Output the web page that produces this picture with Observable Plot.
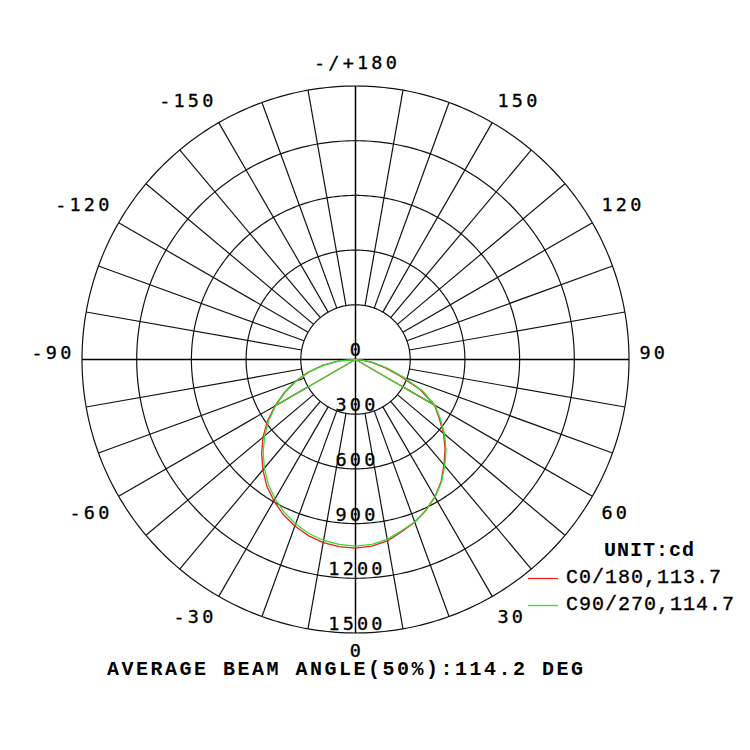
<!DOCTYPE html>
<html>
<head>
<meta charset="utf-8">
<script src="https://cdn.jsdelivr.net/npm/d3@7"></script>
<script src="https://cdn.jsdelivr.net/npm/@observablehq/plot@0.6"></script>
<style>
  html, body { margin: 0; padding: 0; background: #fff; }
  #chart svg { display: block; }
  #chart svg g[aria-label="text"] text { letter-spacing: 3.2px; }
</style>
</head>
<body>
<div id="chart"></div>
<script>
// ---- data ----
const gammaAngles = [0, 5, 10, 15, 20, 25, 30, 35, 40, 45, 50, 55, 60, 65, 70, 75, 80, 85, 90];
// C0/180 plane (red): C0 drawn on the right, C180 on the left
const c0Values   = [1035, 1028, 1010, 978, 950, 912, 870, 818, 755, 695, 630, 560, 500, 390, 255, 160, 90, 35, 0];
const c180Values = [1035, 1030, 1020, 1000, 972, 938, 895, 848, 790, 728, 662, 590, 510, 432, 350, 268, 180, 90, 0];
// C90/270 plane (green)
const c90Values  = [1024, 1018, 1002, 972, 948, 914, 872, 822, 762, 702, 638, 568, 505, 405, 275, 180, 100, 40, 0];
const c270Values = [1024, 1018, 1008, 988, 960, 925, 882, 835, 778, 716, 650, 580, 505, 425, 345, 262, 176, 88, 0];
const chordGamma = 60;

const ringValues = [300, 600, 900, 1200, 1500];
const ringLabelValues = [0, 300, 600, 900, 1200, 1500];
const angleLabelValues = [0, 30, 60, 90, 120, 150, 180, -150, -120, -90, -60, -30];
const angleLabelTexts = ["0", "30", "60", "90", "120", "150", "-/+180", "-150", "-120", "-90", "-60", "-30"];

const seriesNames = ["C0/180,113.7", "C90/270,114.7"];
const seriesColors = ["#ee2020", "#33dd33"];
const unitText = "UNIT:cd";
const captionText = "AVERAGE BEAM ANGLE(50%):114.2 DEG";

// ---- geometry helpers (polar -> cartesian in cd units) ----
const deg = Math.PI / 180;
const pt = (a, v) => ({x: v * Math.sin(a * deg), y: -v * Math.cos(a * deg)});
const rMax = ringValues[ringValues.length - 1];
const RPX = 273.5;               // outer ring radius in pixels
const k = rMax / RPX;            // cd per pixel

function curve(leftVals, rightVals, name) {
  const pts = [];
  for (let i = gammaAngles.length - 1; i >= 0; i--) pts.push({...pt(-gammaAngles[i], leftVals[i]), s: name});
  for (let i = 1; i < gammaAngles.length; i++) pts.push({...pt(gammaAngles[i], rightVals[i]), s: name});
  return pts;
}
function chords(leftVals, rightVals, name) {
  const i = gammaAngles.indexOf(chordGamma);
  const L = pt(-chordGamma, leftVals[i]), R = pt(chordGamma, rightVals[i]);
  return [
    {x1: 0, y1: 0, x2: L.x, y2: L.y, s: name},
    {x1: 0, y1: 0, x2: R.x, y2: R.y, s: name}
  ];
}

const redCurve = curve(c180Values, c0Values, seriesNames[0]);
const greenCurve = curve(c270Values, c90Values, seriesNames[1]);
const redChords = chords(c180Values, c0Values, seriesNames[0]);
const greenChords = chords(c270Values, c90Values, seriesNames[1]);

const ringPts = [];
for (const r of ringValues) for (let a = 0; a <= 360; a += 1) ringPts.push({...pt(a, r), r});

const spokes = [];
for (let a = -170; a <= 180; a += 10) {
  if (a % 90 === 0) continue;
  const p1 = pt(a, ringValues[0]), p2 = pt(a, rMax);
  spokes.push({x1: p1.x, y1: p1.y, x2: p2.x, y2: p2.y});
}
const axesLines = [0, 90].map(a => {
  const p1 = pt(a, rMax), p2 = pt(a + 180, rMax);
  return {x1: p1.x, y1: p1.y, x2: p2.x, y2: p2.y};
});

// angle labels: side labels anchored at their inner edge, top/bottom centred
const angleLabels = angleLabelValues.map((a, i) => {
  const s = Math.sin(a * deg), c = Math.cos(a * deg);
  let xPx, yPx, anchor;
  if (Math.abs(s) < 0.01) {
    xPx = 1.5; yPx = c > 0 ? 292 : -296; anchor = "middle";
  } else {
    const off = c > 0.1 ? 12 : c < -0.1 ? -12 : -6;
    xPx = 284 * s + (s < 0 ? 3 : 0);
    yPx = 284 * c + off;
    anchor = s > 0 ? "start" : "end";
  }
  return {x: xPx * k, y: -yPx * k, t: angleLabelTexts[i], anchor};
});
const ringLabels = ringLabelValues.map(v => ({x: 1.5 * k, y: -v, t: String(v)}));

const labelStyle = {fontFamily: "DejaVu Sans Mono", fontSize: 18.5, fill: "#000", stroke: "#000", strokeWidth: 0.35};

const plot = Plot.plot({
  width: 750,
  height: 750,
  marginLeft: 81.5,
  marginRight: 121.5,
  marginTop: 85.5,
  marginBottom: 117.5,
  x: {domain: [-rMax, rMax], axis: null},
  y: {domain: [-rMax, rMax], axis: null},
  style: {background: "#fff", overflow: "visible"},
  marks: [
    Plot.line(ringPts, {x: "x", y: "y", z: "r", stroke: "#111", strokeWidth: 1.2}),
    Plot.link(spokes, {x1: "x1", y1: "y1", x2: "x2", y2: "y2", stroke: "#111", strokeWidth: 1.2}),
    Plot.link(axesLines, {x1: "x1", y1: "y1", x2: "x2", y2: "y2", stroke: "#000", strokeWidth: 1.5}),
    Plot.line(redCurve, {x: "x", y: "y", stroke: seriesColors[0], strokeWidth: 1.3}),
    Plot.link(redChords, {x1: "x1", y1: "y1", x2: "x2", y2: "y2", stroke: seriesColors[0], strokeWidth: 1.3}),
    Plot.line(greenCurve, {x: "x", y: "y", stroke: seriesColors[1], strokeWidth: 1.3}),
    Plot.link(greenChords, {x1: "x1", y1: "y1", x2: "x2", y2: "y2", stroke: seriesColors[1], strokeWidth: 1.3}),
    Plot.text(ringLabels, {x: "x", y: "y", text: "t", ...labelStyle, dy: -9, textAnchor: "middle"}),
    Plot.text(angleLabels.filter(d => d.anchor === "middle"), {x: "x", y: "y", text: "t", ...labelStyle, textAnchor: "middle"}),
    Plot.text(angleLabels.filter(d => d.anchor === "start"), {x: "x", y: "y", text: "t", ...labelStyle, textAnchor: "start"}),
    Plot.text(angleLabels.filter(d => d.anchor === "end"), {x: "x", y: "y", text: "t", ...labelStyle, textAnchor: "end"})
  ]
});
document.getElementById("chart").appendChild(plot);

// ---- legend and caption ----
const svg = d3.select(plot);
svg.append("text")
  .attr("x", 604).attr("y", 556)
  .attr("text-anchor", "start")
  .attr("font-family", "Liberation Mono").attr("font-weight", "bold")
  .attr("font-size", 20).attr("letter-spacing", "1px")
  .attr("fill", "#000").text(unitText);
seriesNames.forEach((name, i) => {
  const yb = 583 + i * 27;
  svg.append("line")
    .attr("x1", 528).attr("x2", 558).attr("y1", yb - 4.5).attr("y2", yb - 4.5)
    .attr("stroke", seriesColors[i]).attr("stroke-width", 1.3);
  svg.append("text")
    .attr("x", 566).attr("y", yb)
    .attr("text-anchor", "start")
    .attr("font-family", "Liberation Mono")
    .attr("font-size", 20).attr("letter-spacing", "1px")
    .attr("stroke", "#000").attr("stroke-width", 0.35)
    .attr("fill", "#000").text(name);
});
svg.append("text")
  .attr("x", 107).attr("y", 675)
  .attr("text-anchor", "start")
  .attr("font-family", "Liberation Mono").attr("font-weight", "bold")
  .attr("font-size", 20).attr("letter-spacing", "2.5px")
  .attr("fill", "#000").text(captionText);
</script>
</body>
</html>
